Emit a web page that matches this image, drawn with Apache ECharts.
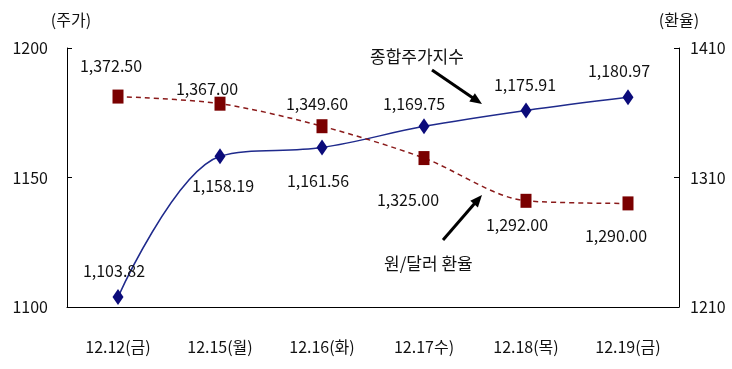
<!DOCTYPE html>
<html><head><meta charset="utf-8">
<script src="https://cdn.jsdelivr.net/npm/echarts@6/dist/echarts.min.js"></script>
<style>html,body{margin:0;padding:0;background:#fff}#c{width:732px;height:369px}</style>
</head><body><div id="c"></div>
<script>
var categories = ['12.12(금)','12.15(월)','12.16(화)','12.17수)','12.18(목)','12.19(금)'];
var stockIndex = [1103.82, 1158.19, 1161.56, 1169.75, 1175.91, 1180.97];
var exchangeRate = [1372.50, 1367.00, 1349.60, 1325.00, 1292.00, 1290.00];
var leftTicks = [1100, 1150, 1200];
var rightTicks = [1210, 1310, 1410];

var FONT = '"Noto Sans CJK KR","Noto Sans",sans-serif';
var stockLabelCfg = [
  {position:'top', distance:10, offset:[-4,0]},
  {position:'bottom', distance:14, offset:[3,0]},
  {position:'bottom', distance:17, offset:[-4,0]},
  {position:'top', distance:6, offset:[-10,0]},
  {position:'top', distance:9, offset:[-1,0]},
  {position:'top', distance:10, offset:[-9,0]}
];
var exLabelCfg = [
  {position:'top', distance:16, offset:[-7,0]},
  {position:'top', distance:0, offset:[-13,0]},
  {position:'top', distance:7, offset:[-5,0]},
  {position:'bottom', distance:27, offset:[-16,0]},
  {position:'bottom', distance:9, offset:[-9,0]},
  {position:'bottom', distance:18, offset:[-12,0]}
];
function fmt(v){return v.toLocaleString('en-US',{minimumFractionDigits:2,maximumFractionDigits:2});}

var chart = echarts.init(document.getElementById('c'), null, {renderer:'canvas'});
var axisLabelStyle = {color:'#111', fontFamily:FONT, fontSize:16};
chart.setOption({
  animation:false,
  backgroundColor:'#fff',
  grid:{left:67, right:53, top:48, bottom:62},
  xAxis:{type:'category', data:categories, boundaryGap:true,
    axisLine:{lineStyle:{color:'#000', width:1}},
    axisTick:{inside:true, length:5, lineStyle:{color:'#000'}},
    axisLabel:Object.assign({margin:32}, axisLabelStyle)},
  yAxis:[
    {type:'value', min:leftTicks[0], max:leftTicks[2], interval:leftTicks[1]-leftTicks[0],
     name:'(주가)', nameLocation:'end', nameGap:20,
     nameTextStyle:{color:'#111', fontFamily:FONT, fontSize:16, padding:[0,0,0,8]},
     axisLine:{show:true, lineStyle:{color:'#000', width:1}},
     axisTick:{show:true, inside:true, length:5, lineStyle:{color:'#000'}},
     splitLine:{show:false},
     axisLabel:Object.assign({margin:19, formatter:function(v){return String(v);}}, axisLabelStyle)},
    {type:'value', min:rightTicks[0], max:rightTicks[2], interval:rightTicks[1]-rightTicks[0],
     name:'(환율)', nameLocation:'end', nameGap:20,
     nameTextStyle:{color:'#111', fontFamily:FONT, fontSize:16},
     axisLine:{show:true, lineStyle:{color:'#000', width:1}},
     axisTick:{show:true, inside:true, length:5, lineStyle:{color:'#000'}},
     splitLine:{show:false},
     axisLabel:Object.assign({margin:11, formatter:function(v){return String(v);}}, axisLabelStyle)}
  ],
  series:[
    {name:'종합주가지수', type:'line', yAxisIndex:0, smooth:0.35,
     symbol:'diamond', symbolSize:[11,16],
     lineStyle:{color:'#1f2a8c', width:1.5},
     itemStyle:{color:'#0b0b7a'},
     label:{show:true, color:'#111', fontFamily:FONT, fontSize:16, formatter:function(p){return fmt(p.value);}},
     data:stockIndex.map(function(v,i){return {value:v, label:stockLabelCfg[i]};})},
    {name:'원/달러 환율', type:'line', yAxisIndex:1, smooth:0.3,
     symbol:'rect', symbolSize:[11,14],
     lineStyle:{color:'#8a1a1a', width:1.5, type:[5,4]},
     itemStyle:{color:'#7a0000'},
     label:{show:true, color:'#111', fontFamily:FONT, fontSize:16, formatter:function(p){return fmt(p.value);}},
     data:exchangeRate.map(function(v,i){return {value:v, label:exLabelCfg[i]};})}
  ],
  graphic:[
    {type:'text', left:370, top:48, style:{text:'종합주가지수', fill:'#111', font:'17px "Noto Sans CJK KR"'}},
    {type:'line', shape:{x1:432,y1:70,x2:473,y2:98}, style:{stroke:'#000', lineWidth:3}},
    {type:'polygon', shape:{points:[[482,104],[469.3,101.4],[474.9,93.2]]}, style:{fill:'#000'}},
    {type:'text', left:384, top:255, style:{text:'원/달러 환율', fill:'#111', font:'17px "Noto Sans CJK KR"'}},
    {type:'line', shape:{x1:443,y1:240,x2:475,y2:203}, style:{stroke:'#000', lineWidth:3}},
    {type:'polygon', shape:{points:[[482,195],[477.9,207.4],[470.3,200.8]]}, style:{fill:'#000'}}
  ]
});
</script></body></html>
